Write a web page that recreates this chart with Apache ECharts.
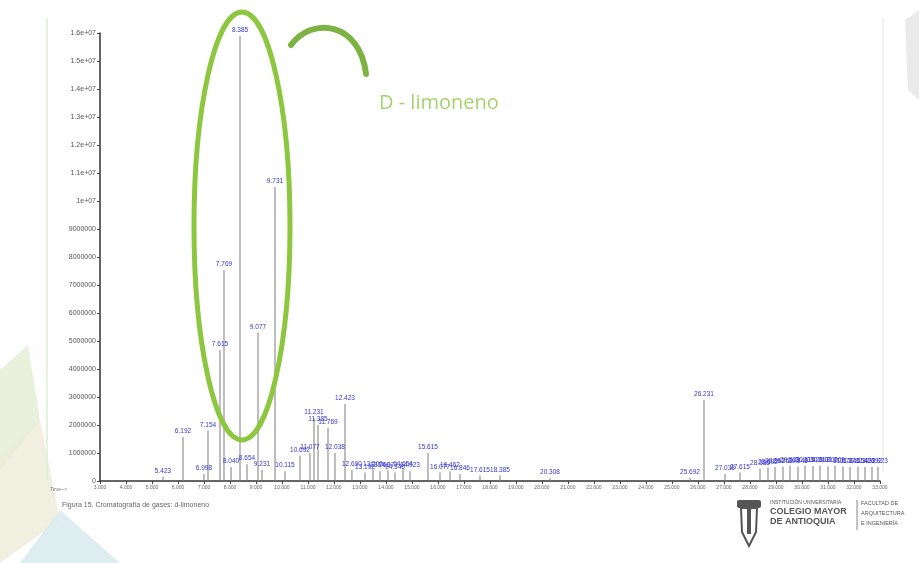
<!DOCTYPE html>
<html>
<head>
<meta charset="utf-8">
<title>Cromatografía de gases: d-limoneno</title>
<script src="https://cdn.jsdelivr.net/npm/echarts@6/dist/echarts.min.js"></script>
<style>
  html, body { margin: 0; padding: 0; background: #ffffff; }
  #chart { width: 919px; height: 563px; }
</style>
</head>
<body>
<div id="chart"></div>
<script>
// Retention times (min) of the labelled peaks
const retentionTimes = [
  5.423, 6.192, 6.998, 7.154, 7.615, 7.769, 8.040, 8.385, 8.654, 9.077,
  9.231, 9.731, 10.115, 10.692, 11.077, 11.231, 11.385, 11.769, 12.038, 12.423,
  12.690, 13.192, 13.500, 13.769, 14.077, 14.346, 14.654, 14.923, 15.615, 16.077,
  16.462, 16.846, 17.615, 18.385, 20.308, 25.692, 26.231, 27.038, 27.615, 28.385,
  28.692, 28.962, 29.269, 29.538, 29.846, 30.115, 30.423, 30.692, 31.000, 31.269,
  31.577, 31.846, 32.154, 32.423, 32.692, 32.923
];
// Abundance of each peak
const abundances = [
  150000, 1570000, 250000, 1800000, 4680000, 7540000, 500000, 15900000, 600000, 5300000,
  400000, 10500000, 350000, 900000, 1000000, 2250000, 2000000, 1900000, 1000000, 2750000,
  400000, 300000, 420000, 350000, 380000, 300000, 420000, 350000, 1000000, 300000,
  350000, 250000, 200000, 200000, 100000, 120000, 2900000, 250000, 300000, 450000,
  480000, 500000, 520000, 550000, 520000, 550000, 540000, 550000, 530000, 550000,
  520000, 500000, 520000, 500000, 510000, 500000
];
// Axis tick values
const yTicks = [0, 1e6, 2e6, 3e6, 4e6, 5e6, 6e6, 7e6, 8e6, 9e6, 1e7, 1.1e7, 1.2e7, 1.3e7, 1.4e7, 1.5e7, 1.6e7];
const xRange = [3, 33];

const peaks = retentionTimes.map((t, i) => [t, abundances[i]]);

function yLabel(v) {
  if (v >= 1e7) {
    return (Math.round(v / 1e6) / 10) + 'e+07';
  }
  return String(Math.round(v));
}

const chart = echarts.init(document.getElementById('chart'));

const option = {
  backgroundColor: '#ffffff',
  animation: false,
  grid: { left: 100, top: 33, width: 780, height: 448 },
  xAxis: {
    type: 'value',
    min: xRange[0],
    max: xRange[1],
    interval: 1,
    splitLine: { show: false },
    axisLine: { show: true, onZero: false, lineStyle: { color: '#333', width: 1.5 } },
    axisTick: { show: true, length: 3, lineStyle: { color: '#444' } },
    axisLabel: {
      fontSize: 5, color: '#666', margin: 4,
      formatter: v => v.toFixed(3)
    }
  },
  yAxis: {
    type: 'value',
    min: 0,
    max: yTicks[yTicks.length - 1],
    interval: 1e6,
    splitLine: { show: false },
    axisLine: { show: true, lineStyle: { color: '#333', width: 1.5 } },
    axisTick: { show: true, length: 3, lineStyle: { color: '#444' } },
    axisLabel: { fontSize: 7, color: '#555', margin: 4, formatter: yLabel }
  },
  series: [{
    type: 'bar',
    data: peaks,
    barWidth: 1,
    itemStyle: { color: '#7d7d7d' },
    label: {
      show: true,
      position: 'top',
      distance: 2,
      fontSize: 6.5,
      color: '#3535d0',
      formatter: p => p.value[0].toFixed(3)
    }
  }],
  graphic: [
    // pale decorative shapes along the slide edges
    { type: 'polygon', shape: { points: [[0, 370], [28, 345], [40, 420], [0, 470]] }, style: { fill: '#e3ecd2', opacity: 0.8 }, z: -10 },
    { type: 'polygon', shape: { points: [[0, 460], [40, 420], [60, 520], [0, 563]] }, style: { fill: '#ecebd8', opacity: 0.8 }, z: -10 },
    { type: 'polygon', shape: { points: [[20, 563], [60, 510], [120, 563]] }, style: { fill: '#d9ebee', opacity: 0.9 }, z: -10 },
    { type: 'polygon', shape: { points: [[905, 20], [919, 10], [919, 100], [908, 90]] }, style: { fill: '#e8e8e8', opacity: 0.9 }, z: -10 },
    // frame lines of the chromatogram image
    { type: 'line', shape: { x1: 47, y1: 18, x2: 47, y2: 480 }, style: { stroke: '#dcefd0', lineWidth: 1.5 }, z: -5 },
    { type: 'line', shape: { x1: 883, y1: 18, x2: 883, y2: 472 }, style: { stroke: '#e4e4e4', lineWidth: 1 }, z: -5 },
    // highlight around the D-limonene peak
    { type: 'ellipse', shape: { cx: 242, cy: 226, rx: 48, ry: 214 }, style: { fill: 'none', stroke: '#8dc63f', lineWidth: 5 }, z: 20 },
    { type: 'bezierCurve', shape: { x1: 291, y1: 45, cpx1: 312, cpy1: 16, cpx2: 360, cpy2: 22, x2: 366, y2: 74 }, style: { stroke: '#7cb342', lineWidth: 6, lineCap: 'round', fill: 'none' }, z: 20 },
    { type: 'text', left: 379, top: 93, style: { text: 'D - limoneno', fontSize: 20, fill: '#a7d36e', fontFamily: 'Open Sans, sans-serif' }, z: 20 },
    // axis caption and figure caption
    { type: 'text', left: 50, top: 487, style: { text: 'Time-->', fontSize: 5, fill: '#777' } },
    { type: 'text', left: 62, top: 502, style: { text: 'Figura 15. Cromatografía de gases: d-limoneno', fontSize: 7, fill: '#666' } },
    // institution logo
    { type: 'rect', shape: { x: 737, y: 500, width: 24, height: 8, r: 2 }, style: { fill: '#555' } },
    { type: 'polygon', shape: { points: [[741, 508], [757, 508], [756, 532], [749, 546], [742, 532]] }, style: { fill: 'none', stroke: '#555', lineWidth: 2 } },
    { type: 'rect', shape: { x: 747, y: 508, width: 4, height: 26 }, style: { fill: '#555' } },
    { type: 'text', left: 770, top: 500, style: { text: 'INSTITUCIÓN UNIVERSITARIA', fontSize: 5, fill: '#555' } },
    { type: 'text', left: 770, top: 507, style: { text: 'COLEGIO MAYOR', fontSize: 9, fill: '#555', fontWeight: 'bold' } },
    { type: 'text', left: 770, top: 517, style: { text: 'DE ANTIOQUIA', fontSize: 9, fill: '#555', fontWeight: 'bold' } },
    { type: 'line', shape: { x1: 857, y1: 500, x2: 857, y2: 530 }, style: { stroke: '#888', lineWidth: 1 } },
    { type: 'text', left: 861, top: 500, style: { text: 'FACULTAD DE', fontSize: 5.5, fill: '#555' } },
    { type: 'text', left: 861, top: 510, style: { text: 'ARQUITECTURA', fontSize: 5.5, fill: '#555' } },
    { type: 'text', left: 861, top: 520, style: { text: 'E INGENIERÍA', fontSize: 5.5, fill: '#555' } }
  ]
};

chart.setOption(option);
</script>
</body>
</html>
